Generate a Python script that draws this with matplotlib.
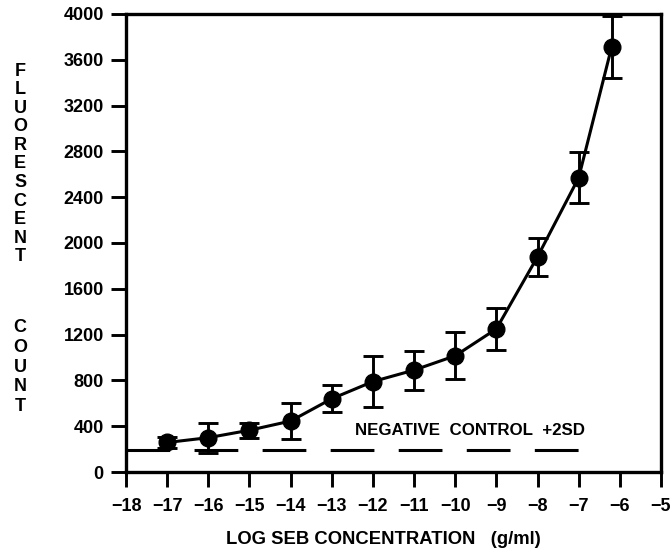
import matplotlib
matplotlib.use("Agg")
import matplotlib.pyplot as plt

plt.rcParams["font.family"] = ["Liberation Sans", "DejaVu Sans"]
plt.rcParams["font.weight"] = "bold"
plt.rcParams["lines.scale_dashes"] = False

# log SEB concentration (g/ml) and fluorescent count with error bars
log_conc = [-17, -16, -15, -14, -13, -12, -11, -10, -9, -8, -7, -6.2]
counts = [258, 300, 365, 445, 640, 790, 890, 1015, 1250, 1880, 2570, 3710]
errors = [50, 130, 65, 155, 120, 225, 170, 205, 185, 165, 225, 270]

# negative control +2SD level
control_x = [-18, -7]
control_y = [192, 192]

x_ticks = list(range(-18, -4))
y_ticks = list(range(0, 4001, 400))

fig = plt.figure(figsize=(6.72, 5.59), dpi=100)
ax = fig.add_axes([0.1875, 0.1556, 0.7961, 0.8194])

ax.plot(control_x, control_y, color="black", lw=2.2, dashes=(31.5, 17.5))
ax.errorbar(log_conc, counts, yerr=errors, color="black", lw=2.2,
            marker="o", ms=12, elinewidth=2.1, capsize=7.5, capthick=2.1)

ax.text(-9.65, 300, "NEGATIVE  CONTROL  +2SD", ha="center", va="bottom",
        fontsize=12.2, fontweight="bold")

ax.set_xlim(-18, -5)
ax.set_ylim(0, 4000)
ax.set_xticks(x_ticks)
ax.set_yticks(y_ticks)
ax.set_xticklabels([f"\u2212{abs(v)}" for v in x_ticks])

for s in ax.spines.values():
    s.set_linewidth(2.4)
ax.tick_params(direction="out", length=11, width=2.1, labelsize=13, pad=5)
for lab in ax.get_xticklabels() + ax.get_yticklabels():
    lab.set_fontweight("bold")
ax.tick_params(axis="x", pad=8)

fig.text(0.57, 0.02, "LOG SEB CONCENTRATION   (g/ml)", ha="center",
         va="bottom", fontsize=13.3, fontweight="bold")

fig.text(0.03, 1 - 164 / 559, "\n".join("FLUORESCENT"), ha="center",
         va="center", fontsize=13, fontweight="bold", linespacing=1.12)
fig.text(0.03, 1 - 367 / 559, "\n".join("COUNT"), ha="center",
         va="center", fontsize=13, fontweight="bold", linespacing=1.2)

fig.savefig("out.png", dpi=100)
